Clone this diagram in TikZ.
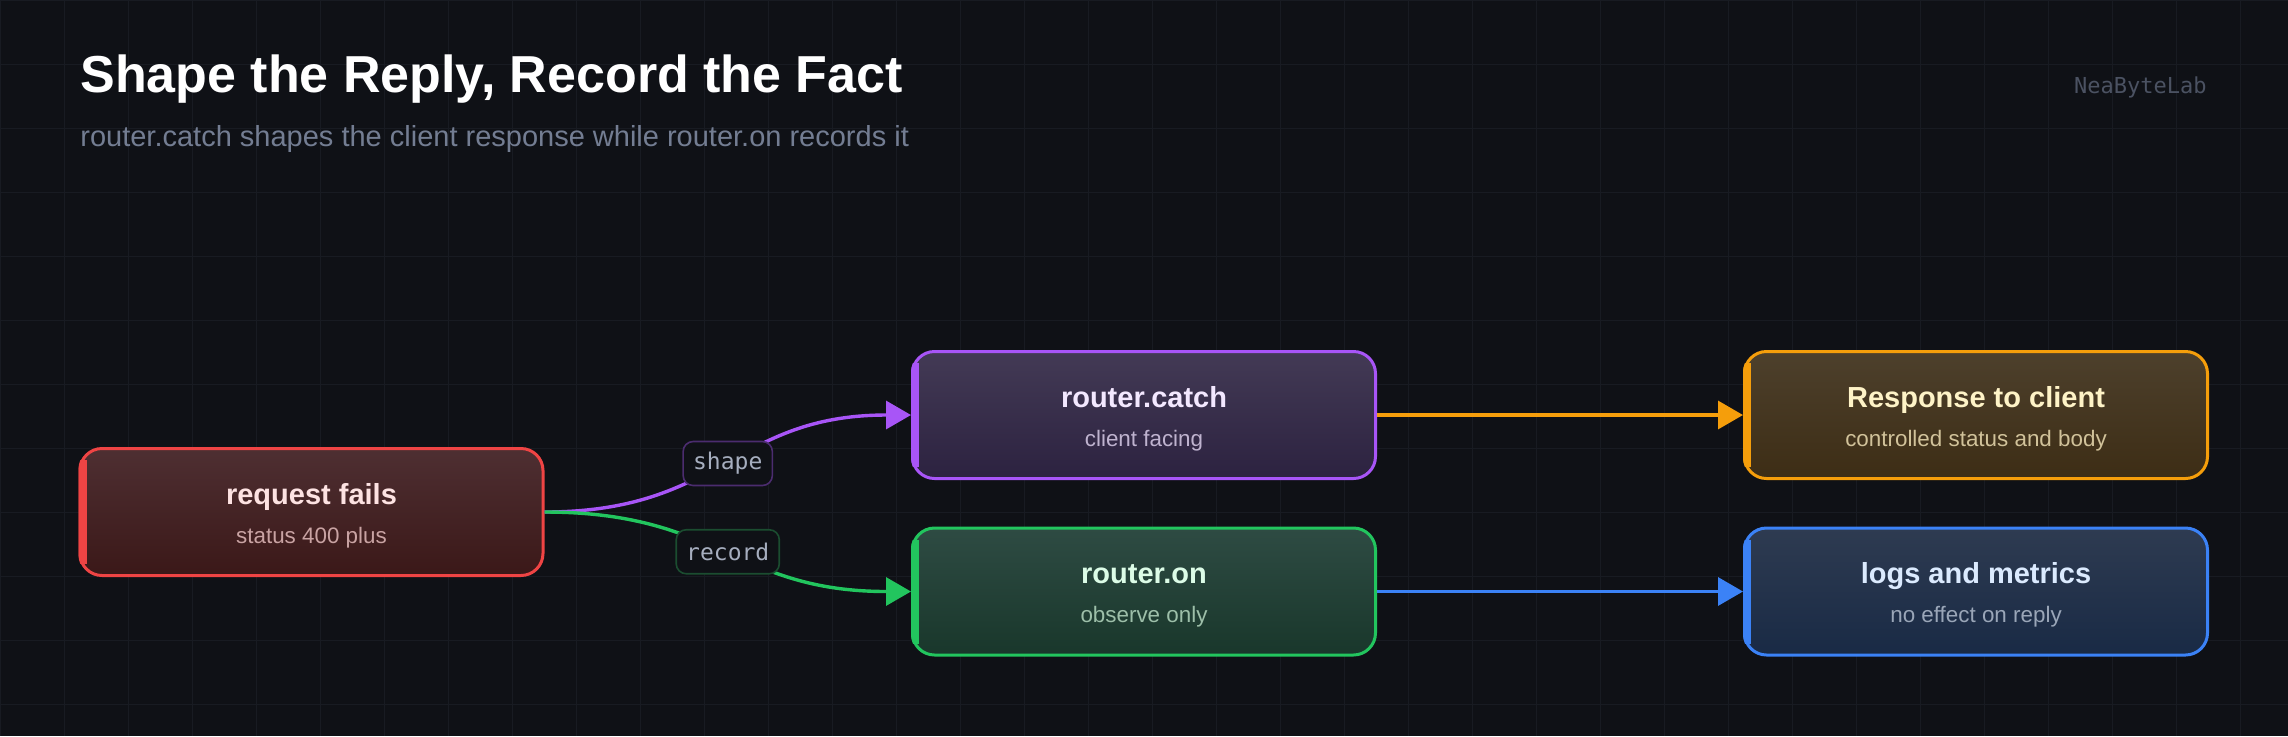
\documentclass[tikz,border=0pt]{standalone}
\usepackage{fontspec}
\setmainfont{Liberation Sans}
\newfontfamily\codefont{DejaVu Sans Mono}
\usetikzlibrary{arrows.meta}
\definecolor{bgdark}{HTML}{0F1116}
\definecolor{gridgray}{HTML}{181B22}
\definecolor{subgray}{HTML}{737D92}
\definecolor{brandgray}{HTML}{4B5262}
\definecolor{pilltext}{HTML}{A6AEBF}
\definecolor{shapepill}{HTML}{4B2C6F}
\definecolor{recordpill}{HTML}{1B4D30}
% card colours: line, top, bottom, title text, sub text
\definecolor{reqline}{HTML}{EF4444}\definecolor{reqtop}{HTML}{4E2F32}\definecolor{reqbot}{HTML}{3B1818}
\definecolor{reqtext}{HTML}{FDE2E2}\definecolor{reqsub}{HTML}{C9A3A3}
\definecolor{catchline}{HTML}{A855F7}\definecolor{catchtop}{HTML}{433A55}\definecolor{catchbot}{HTML}{2C2240}
\definecolor{catchtext}{HTML}{F3E8FF}\definecolor{catchsub}{HTML}{BFB3CF}
\definecolor{respline}{HTML}{F59E0B}\definecolor{resptop}{HTML}{4D402C}\definecolor{respbot}{HTML}{3D2D15}
\definecolor{resptext}{HTML}{FEF3C7}\definecolor{respsub}{HTML}{D1C29A}
\definecolor{online}{HTML}{22C55E}\definecolor{ontop}{HTML}{2E4B43}\definecolor{onbot}{HTML}{19372B}
\definecolor{ontext}{HTML}{DCFCE7}\definecolor{onsub}{HTML}{9DBFA9}
\definecolor{logsline}{HTML}{3B82F6}\definecolor{logstop}{HTML}{2E3B51}\definecolor{logsbot}{HTML}{192A45}
\definecolor{logstext}{HTML}{DBEAFE}\definecolor{logssub}{HTML}{9AA6B8}
\newcommand{\cardlines}[3]{\rule{0pt}{14pt}\textcolor{#1text}{\bfseries #2}\\
  \textcolor{#1sub}{\fontsize{11.2pt}{19.5pt}\selectfont #3}}

\begin{document}
\begin{tikzpicture}[x=0.5pt,y=-0.5pt,
    card/.style={draw=#1line,top color=#1top,bottom color=#1bot,rounded corners=11pt,
      line width=1.5pt,minimum width=231.5pt,minimum height=63.5pt,inner sep=0pt,
      align=center,font=\fontsize{14.5pt}{19.5pt}\selectfont},
    pill/.style={draw=#1,fill=bgdark,rounded corners=5pt,line width=0.8pt,minimum height=22pt,
      inner xsep=5pt,inner ysep=0pt,text=pilltext,font=\codefont\fontsize{11.5pt}{12pt}\selectfont},
    flow/.style={draw=#1,line width=1.7pt,-{Triangle[length=12.5pt,width=14pt]}},
    gridline/.style={draw=gridgray,line width=0.5pt}]
  \useasboundingbox (0,0) rectangle (2288,736);
  \fill[bgdark] (0,0) rectangle (2288,736);
  \foreach \gx in {0,64,...,2240}{\draw[gridline] (\gx,0) -- (\gx,736);}
  \foreach \gy in {0,64,...,704}{\draw[gridline] (0,\gy) -- (2288,\gy);}

  % heading
  \node[anchor=base west,inner sep=0pt,text=white,font=\bfseries\fontsize{26pt}{30pt}\selectfont]
    (title) at (80,92) {Shape the Reply, Record the Fact};
  \node[anchor=base west,inner sep=0pt,text=subgray,font=\fontsize{14.5pt}{17pt}\selectfont]
    (subtitle) at (80,146) {router.catch shapes the client response while router.on records it};
  \node[anchor=base east,inner sep=0pt,text=brandgray,font=\codefont\fontsize{11pt}{13pt}\selectfont]
    (brand) at (2207,93) {NeaByteLab};

  % cards
  \node[card=req] (req) at (311.5,512) {\cardlines{req}{request fails}{status 400 plus}};
  \node[card=catch] (catch) at (1144,415) {\cardlines{catch}{router.catch}{client facing}};
  \node[card=resp] (resp) at (1976,415) {\cardlines{resp}{Response to client}{controlled status and body}};
  \node[card=on] (on) at (1144,591.5) {\cardlines{on}{router.on}{observe only}};
  \node[card=logs] (logs) at (1976,591.5) {\cardlines{logs}{logs and metrics}{no effect on reply}};
  \foreach \n in {req,catch,resp,on,logs}{
    \begin{scope}
      \clip[rounded corners=11pt] (\n.south west) rectangle (\n.north east);
      \fill[\n line] ([shift={(-2,13)}]\n.north west) rectangle ([shift={(8,-13)}]\n.south west);
    \end{scope}}

  % connectors
  \draw[flow=catchline] (req.east) to[out=0,in=180,looseness=1.2]
    node[pill=shapepill] (shapelbl) {shape} (catch.west);
  \draw[flow=online] (req.east) to[out=0,in=180,looseness=1.2]
    node[pill=recordpill] (recordlbl) {record} (on.west);
  \draw[flow=respline] (catch.east) -- (resp.west);
  \draw[flow=logsline] (on.east) -- (logs.west);
\end{tikzpicture}
\end{document}
